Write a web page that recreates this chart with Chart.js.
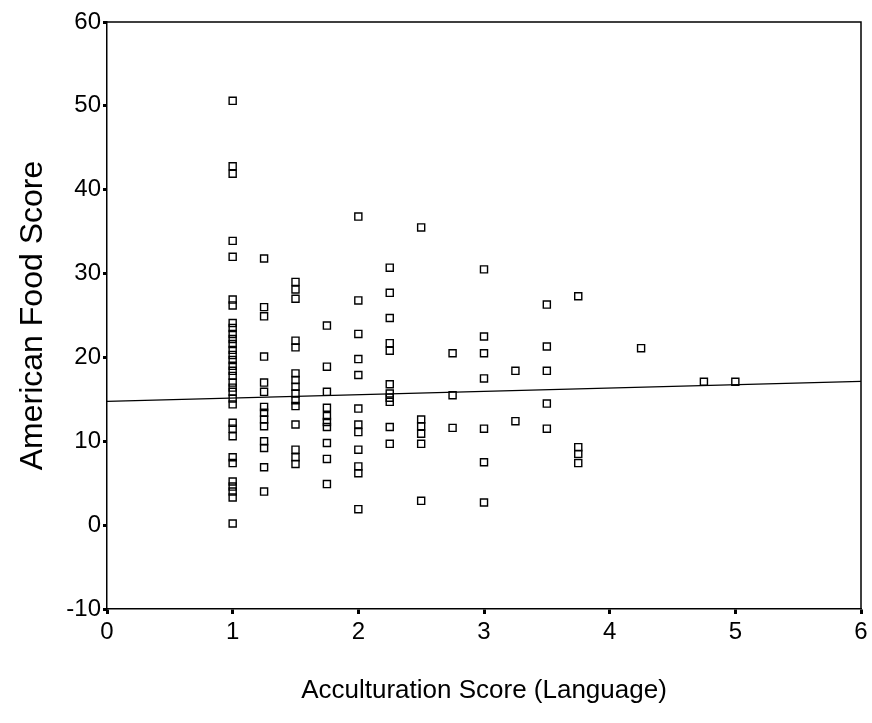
<!DOCTYPE html>
<html>
<head>
<meta charset="utf-8">
<script src="https://cdn.jsdelivr.net/npm/chart.js@4/dist/chart.umd.min.js"></script>
<style>
html,body{margin:0;padding:0;background:#ffffff;}
#wrap{width:872px;height:723px;position:relative;}
</style>
</head>
<body>
<div id="wrap"><canvas id="c" width="872" height="723"></canvas></div>
<script>
// Acculturation levels (x) and the American Food Scores observed at each level (y)
const acculturationLevels = [1, 1.25, 1.5, 1.75, 2, 2.25, 2.5, 2.75, 3, 3.25, 3.5, 3.75, 4.25, 4.75, 5];
const scoresAt1_00 = [50.6, 42.8, 41.9, 33.9, 32.0, 26.9, 26.2, 24.1, 23.5, 22.8, 22.2, 21.6, 20.9, 20.3, 19.7, 19.0, 18.4, 17.8, 17.0, 16.4, 15.9, 15.1, 14.4, 12.2, 11.5, 10.6, 8.1, 7.4, 5.2, 4.6, 4.0, 3.3, 0.2];
const scoresAt1_25 = [31.8, 26.0, 24.9, 20.1, 17.0, 15.9, 14.1, 13.4, 12.6, 11.8, 10.0, 9.2, 6.9, 4.0];
const scoresAt1_50 = [29.0, 28.1, 27.0, 22.0, 21.2, 18.1, 17.3, 16.5, 15.7, 14.9, 14.2, 12.0, 9.0, 8.1, 7.3];
const scoresAt1_75 = [23.8, 18.9, 15.9, 14.0, 13.0, 12.3, 11.7, 9.8, 7.9, 4.9];
const scoresAt2_00 = [36.8, 26.8, 22.8, 19.8, 17.9, 13.9, 12.0, 11.1, 9.0, 7.0, 6.2, 1.9];
const scoresAt2_25 = [30.7, 27.7, 24.7, 21.7, 20.8, 16.8, 15.7, 15.2, 14.7, 11.7, 9.7];
const scoresAt2_50 = [35.5, 12.6, 11.8, 10.9, 9.7, 2.9];
const scoresAt2_75 = [20.5, 15.5, 11.6];
const scoresAt3_00 = [30.5, 22.5, 20.5, 17.5, 11.5, 7.5, 2.7];
const scoresAt3_25 = [18.4, 12.4];
const scoresAt3_50 = [26.3, 21.3, 18.4, 14.5, 11.5];
const scoresAt3_75 = [27.3, 9.3, 8.5, 7.4];
const scoresAt4_25 = [21.1];
const scoresAt4_75 = [17.1];
const scoresAt5_00 = [17.1];
const scoresByLevel = [scoresAt1_00, scoresAt1_25, scoresAt1_50, scoresAt1_75, scoresAt2_00, scoresAt2_25,
  scoresAt2_50, scoresAt2_75, scoresAt3_00, scoresAt3_25, scoresAt3_50, scoresAt3_75, scoresAt4_25, scoresAt4_75, scoresAt5_00];

// Fitted regression line end points
const fitX = [0, 6];
const fitY = [14.75, 17.15];

// Axis tick values
const xTicks = [0, 1, 2, 3, 4, 5, 6];
const yTicks = [-10, 0, 10, 20, 30, 40, 50, 60];

const xTitle = 'Acculturation Score (Language)';
const yTitle = 'American Food Score';

const scatterPoints = [];
acculturationLevels.forEach((lvl, i) => {
  scoresByLevel[i].forEach(v => scatterPoints.push({x: lvl, y: v}));
});
const fitPoints = fitX.map((x, i) => ({x: x, y: fitY[i]}));

const FONT = "'Liberation Sans', Arial, Helvetica, sans-serif";

const framePlugin = {
  id: 'frame',
  afterDatasetsDraw(chart) {
    const {ctx, chartArea: a} = chart;
    ctx.save();
    ctx.strokeStyle = '#000';
    ctx.lineWidth = 1.5;
    ctx.beginPath();
    ctx.moveTo(a.left, a.top);
    ctx.lineTo(a.right, a.top);
    ctx.lineTo(a.right, a.bottom);
    ctx.stroke();
    ctx.restore();
  }
};

new Chart(document.getElementById('c'), {
  type: 'scatter',
  data: {
    datasets: [
      {
        type: 'line',
        data: fitPoints,
        borderColor: '#000',
        borderWidth: 1.2,
        pointRadius: 0,
        fill: false,
        tension: 0,
        order: 2
      },
      {
        type: 'scatter',
        data: scatterPoints,
        pointStyle: 'rect',
        pointRadius: 5,
        borderColor: '#000',
        borderWidth: 1.4,
        backgroundColor: 'rgba(255,255,255,0)',
        order: 1
      }
    ]
  },
  options: {
    responsive: false,
    animation: false,
    devicePixelRatio: 1,
    layout: {padding: {left: 0, right: 11, top: 22, bottom: 0}},
    plugins: {legend: {display: false}, tooltip: {enabled: false}},
    scales: {
      x: {
        type: 'linear',
        min: 0, max: 6,
        afterBuildTicks(s) { s.ticks = xTicks.map(v => ({value: v})); },
        afterFit(s) { s.height = 114; },
        ticks: {color: '#000', font: {family: FONT, size: 24}, padding: 4, maxRotation: 0},
        grid: {drawOnChartArea: false, drawTicks: true, tickLength: 5, tickWidth: 3, tickColor: '#000', color: '#000'},
        border: {color: '#000', width: 1.5},
        title: {display: true, text: xTitle, color: '#000', font: {family: FONT, size: 26}, padding: {top: 0, bottom: 17}}
      },
      y: {
        type: 'linear',
        min: -10, max: 60,
        afterBuildTicks(s) { s.ticks = yTicks.map(v => ({value: v})); },
        afterFit(s) { s.width = 107; },
        ticks: {color: '#000', font: {family: FONT, size: 24}, padding: 2},
        grid: {drawOnChartArea: false, drawTicks: true, tickLength: 4, tickWidth: 3, tickColor: '#000', color: '#000'},
        border: {color: '#000', width: 1.5},
        title: {display: true, text: yTitle, color: '#000', font: {family: FONT, size: 32}, padding: {top: 14, bottom: 0}}
      }
    }
  },
  plugins: [framePlugin]
});
</script>
</body>
</html>
